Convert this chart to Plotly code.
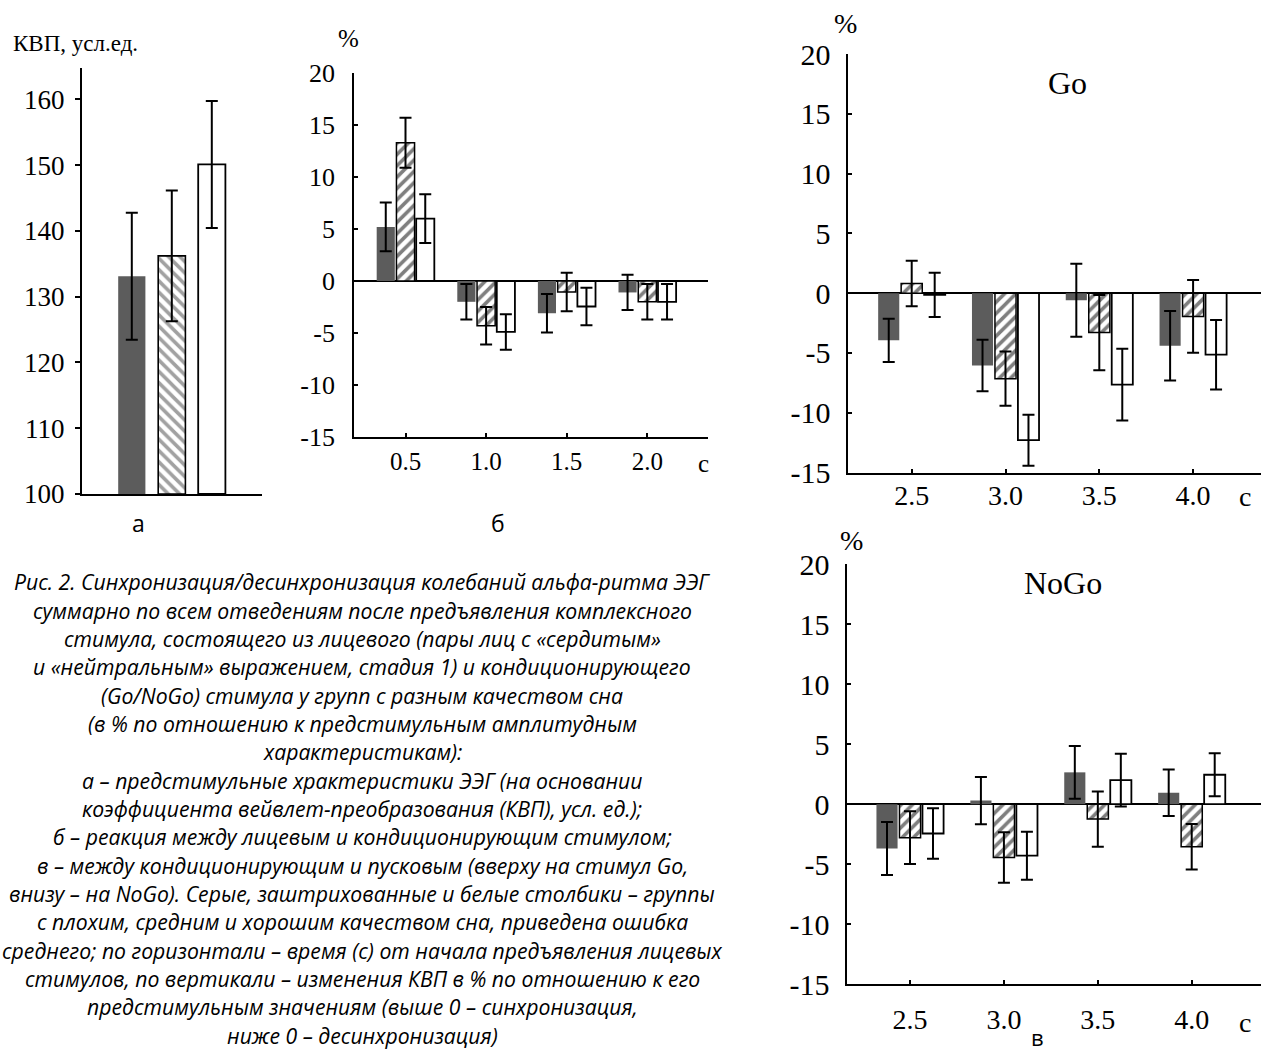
import plotly.graph_objects as go

W, H = 1261, 1053

# ---- panel а: pre-stimulus wavelet coefficient (КВП), arb. units ----
a_groups = ["плохой", "средний", "хороший"]
a_values = [133.1, 136.2, 150.1]
a_errors = [9.65, 9.95, 9.65]
a_ticks = [100, 110, 120, 130, 140, 150, 160]

# ---- panel б: reaction between face and conditioning stimulus, % ----
b_times = ["0.5", "1.0", "1.5", "2.0"]
b_poor = [5.2, -2.0, -3.1, -1.1]
b_poor_err = [2.35, 1.7, 1.85, 1.7]
b_mid = [13.3, -4.3, -1.05, -2.0]
b_mid_err = [2.4, 1.8, 1.85, 1.7]
b_good = [6.0, -4.9, -2.45, -2.0]
b_good_err = [2.35, 1.7, 1.8, 1.7]

# ---- panel в: between conditioning and trigger stimulus, % ----
v_times = ["2.5", "3.0", "3.5", "4.0"]
go_poor = [-3.95, -6.05, -0.6, -4.4]
go_poor_err = [1.8, 2.15, 3.05, 2.9]
go_mid = [0.8, -7.15, -3.3, -1.95]
go_mid_err = [1.9, 2.27, 3.15, 3.04]
go_good = [-0.15, -12.3, -7.65, -5.15]
go_good_err = [1.85, 2.13, 3.0, 2.9]

nogo_poor = [-3.7, 0.3, 2.65, 0.95]
nogo_poor_err = [2.2, 1.97, 2.2, 1.93]
nogo_mid = [-2.8, -4.45, -1.25, -3.55]
nogo_mid_err = [2.2, 2.1, 2.3, 1.9]
nogo_good = [-2.45, -4.3, 2.0, 2.45]
nogo_good_err = [2.1, 2.0, 2.2, 1.8]

pct_ticks = [-15, -10, -5, 0, 5, 10, 15, 20]
pct_labels = ["-15", "-10", "-5", "0", "5", "10", "15", "20"]

caption_lines = [
    "Рис. 2. Синхронизация/десинхронизация колебаний альфа-ритма ЭЭГ",
    "суммарно по всем отведениям после предъявления комплексного",
    "стимула, состоящего из лицевого (пары лиц с «сердитым»",
    "и «нейтральным» выражением, стадия 1) и кондиционирующего",
    "(Go/NoGo) стимула у групп с разным качеством сна",
    "(в % по отношению к предстимульным амплитудным",
    "характеристикам):",
    "а – предстимульные храктеристики ЭЭГ (на основании",
    "коэффициента вейвлет-преобразования (КВП), усл. ед.);",
    "б – реакция между лицевым и кондиционирующим стимулом;",
    "в – между кондиционирующим и пусковым (вверху на стимул Go,",
    "внизу – на NoGo). Серые, заштрихованные и белые столбики – группы",
    "с плохим, средним и хорошим качеством сна, приведена ошибка",
    "среднего; по горизонтали – время (с) от начала предъявления лицевых",
    "стимулов, по вертикали – изменения КВП в % по отношению к его",
    "предстимульным значениям (выше 0 – синхронизация,",
    "ниже 0 – десинхронизация)",
]

SERIF = "Liberation Serif, Times New Roman, serif"
SANS = "Open Sans, Noto Sans, sans-serif"
GRAY = "#5c5c5c"
BAR_W = 0.225
BAR_STEP = 0.245
HATCH = dict(fgcolor="black", bgcolor="white", size=8, solidity=0.45)


def xd(left, right):
    return [left / W, min(right / W, 1.0)]


def yd(top, bottom):
    return [1 - bottom / H, 1 - top / H]


def err(arr):
    return dict(type="data", array=arr, color="black", thickness=2, width=6)


fig = go.Figure()

# panel а: single trace, three bars with individual fills
fig.add_trace(go.Bar(
    x=list(range(len(a_values))), y=[v - 100 for v in a_values], base=100,
    width=0.68, error_y=err(a_errors),
    marker=dict(
        color=[GRAY, "white", "white"],
        line=dict(color="black", width=[0, 1.6, 1.8]),
        pattern=dict(shape=["", "\\", ""], **HATCH),
    ),
    xaxis="x", yaxis="y", showlegend=False, hoverinfo="skip",
))


def group_bars(xa, ya, series):
    idx = list(range(4))
    styles = [
        dict(color=GRAY, line=dict(width=0)),
        dict(color="white", line=dict(color="black", width=1.5),
             pattern=dict(shape="/", **HATCH)),
        dict(color="white", line=dict(color="black", width=1.8)),
    ]
    for k, (vals, errs) in enumerate(series):
        centre = (k - 1) * BAR_STEP
        fig.add_trace(go.Bar(
            x=idx, y=vals, width=BAR_W, offset=centre - BAR_W / 2,
            error_y=err(errs), marker=styles[k],
            xaxis=xa, yaxis=ya, showlegend=False, hoverinfo="skip",
        ))


group_bars("x2", "y2", [(b_poor, b_poor_err), (b_mid, b_mid_err), (b_good, b_good_err)])
group_bars("x3", "y3", [(go_poor, go_poor_err), (go_mid, go_mid_err), (go_good, go_good_err)])
group_bars("x4", "y4", [(nogo_poor, nogo_poor_err), (nogo_mid, nogo_mid_err), (nogo_good, nogo_good_err)])

line_kw = dict(showline=True, linecolor="black", linewidth=1.8, showgrid=False,
               automargin=False)

# panel а axes
fig.update_layout(
    xaxis=dict(domain=xd(81.7, 261.7), range=[-1.2525, 3.2475], anchor="y",
               showticklabels=False, ticks="", zeroline=False, **line_kw),
    yaxis=dict(domain=yd(68, 494), range=[100, 164.76], anchor="x",
               tickvals=a_ticks, ticks="outside", ticklen=5, tickwidth=1.5,
               tickcolor="black", zeroline=False, ticklabelstandoff=5,
               tickfont=dict(family=SERIF, size=27, color="black"), **line_kw),
)


def pct_axes(n, xdom, ydom, xrange, labels, xfont, yfont, xstand, ystand):
    fig.update_layout(**{
        f"xaxis{n}": dict(domain=xdom, range=xrange, anchor=f"y{n}",
                          tickvals=list(range(4)), ticktext=labels,
                          ticks="inside", ticklen=4, tickwidth=1.5, tickcolor="black",
                          zeroline=False, ticklabelstandoff=xstand,
                          tickfont=dict(family=SERIF, size=xfont, color="black"),
                          **line_kw),
        f"yaxis{n}": dict(domain=ydom, range=[-15, 20], anchor=f"x{n}",
                          tickvals=pct_ticks, ticktext=pct_labels,
                          ticks="inside", ticklen=4, tickwidth=1.5,
                          tickcolor="black", ticklabelstandoff=ystand,
                          zeroline=True, zerolinecolor="black", zerolinewidth=1.6,
                          tickfont=dict(family=SERIF, size=yfont, color="black"),
                          **line_kw),
    })


pct_axes(2, xd(354, 708), yd(73, 437), [-0.639, 3.753], b_times, 25, 26, 1, 12)
pct_axes(3, xd(848.3, 1261), yd(54, 472.5), [-0.676, 3.724], v_times, 28, 30, -3, 10)
pct_axes(4, xd(847.3, 1261), yd(564.3, 984), [-0.668, 3.738], v_times, 28, 30, 9, 10)

anns = []


def text(x, y, s, size, family=SERIF, xanchor="center", style="normal"):
    anns.append(dict(x=x / W, y=1 - y / H, xref="paper", yref="paper", text=s,
                     showarrow=False, xanchor=xanchor, yanchor="middle",
                     font=dict(family=family, size=size, color="black", style=style)))


text(11, 43, "КВП, усл.ед.", 23, xanchor="left")
text(348, 38, "%", 25)
text(846, 24, "%", 28)
text(851, 540, "%", 28)
text(1067, 83, "Go", 32)
text(1063, 583, "NoGo", 32)
text(703, 463, "с", 25)
text(1245, 497, "с", 28)
text(1245, 1022, "с", 28)
text(138, 523, "а", 23, family=SANS)
text(498, 523, "б", 23, family=SANS)
text(1037, 1037, "в", 22, family=SANS)

for i, line in enumerate(caption_lines):
    text(362, 581.7 + i * 28.35, line, 21.2, family=SANS, style="italic")

fig.update_layout(
    annotations=anns,
    width=W, height=H, margin=dict(l=0, r=0, t=0, b=0, autoexpand=False),
    paper_bgcolor="white", plot_bgcolor="white",
    barmode="overlay", showlegend=False,
)

fig.write_html("out.html")
